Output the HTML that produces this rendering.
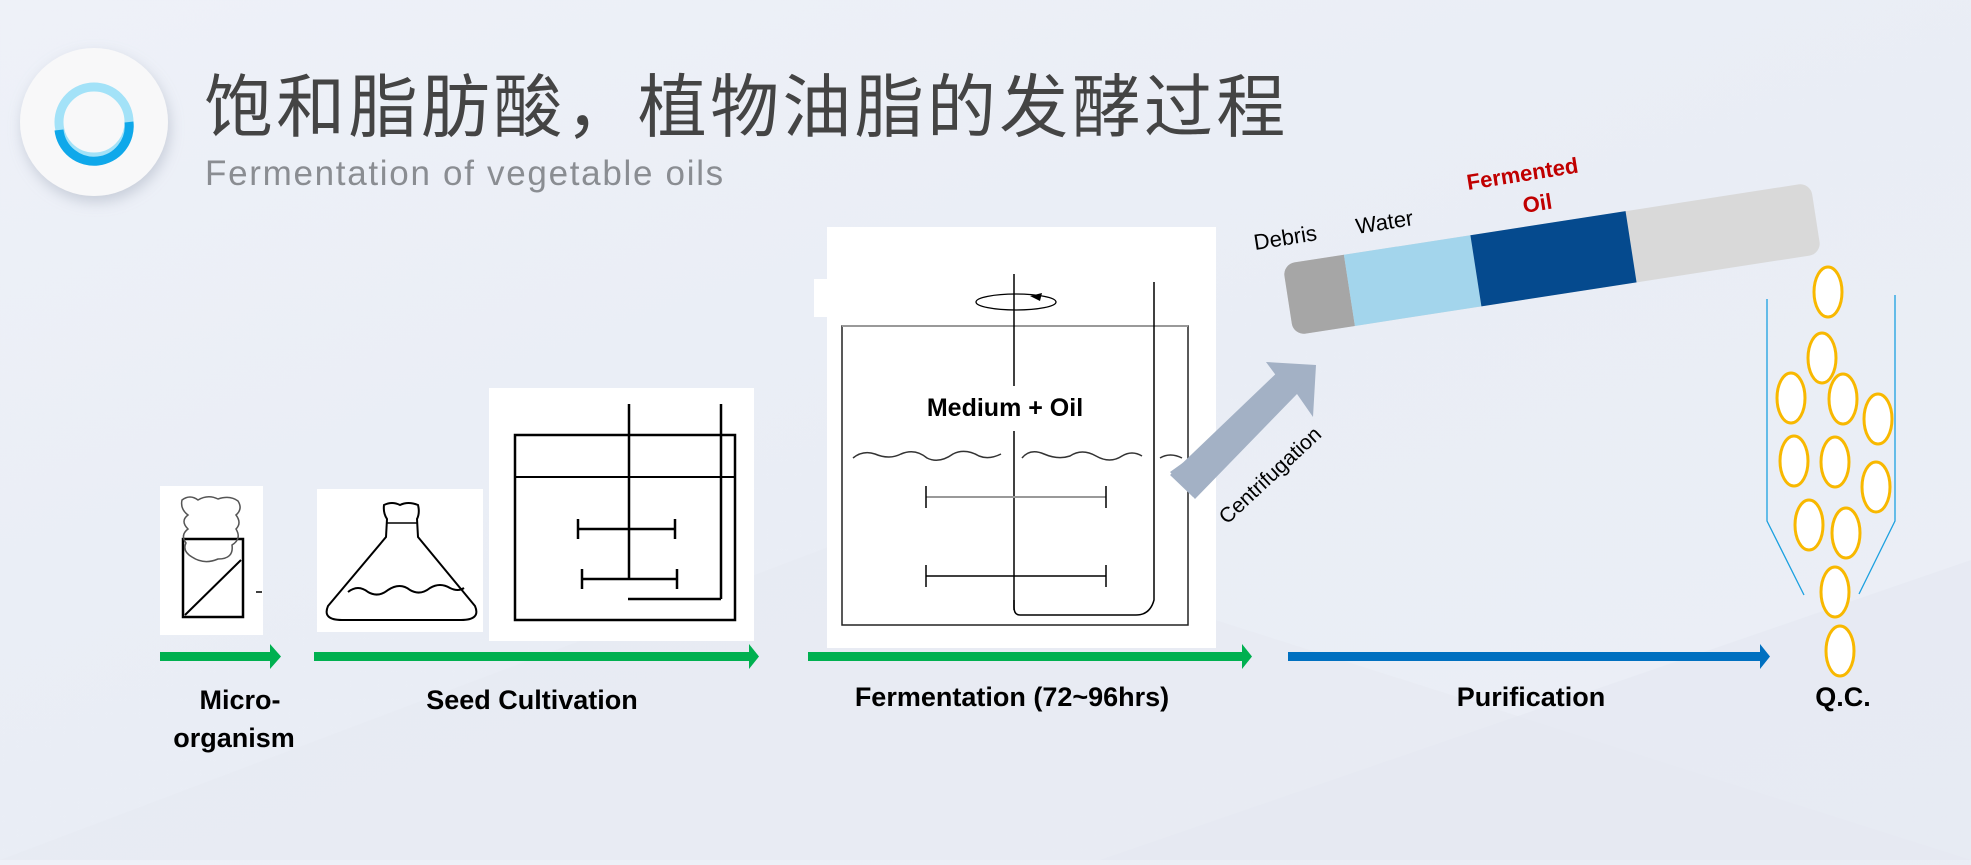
<!DOCTYPE html>
<html><head><meta charset="utf-8">
<style>
html,body{margin:0;padding:0;}
body{width:1971px;height:860px;overflow:hidden;background:linear-gradient(160deg,#eef1f8 0%,#e9edf5 50%,#eceff6 100%);font-family:"Liberation Sans",sans-serif;}
</style></head><body>
<svg width="1971" height="860" viewBox="0 0 1971 860" xmlns="http://www.w3.org/2000/svg">
<defs>
<filter id="sh" x="-30%" y="-30%" width="160%" height="160%"><feDropShadow dx="2" dy="6" stdDeviation="7" flood-color="#9aa3b5" flood-opacity="0.45"/></filter>
</defs>
<polygon points="0,860 900,520 1971,860" fill="#e6e9f2" opacity="0.6"/>
<polygon points="1100,860 1971,560 1971,860" fill="#e4e8f1" opacity="0.6"/>
<!-- icon -->
<circle cx="94" cy="122" r="74" fill="#f8f8f9" filter="url(#sh)"/>
<circle cx="94" cy="122" r="35" fill="none" stroke="#a3e2f8" stroke-width="9"/>
<path d="M129,122 A35,35 0 0 1 59,130" fill="none" stroke="#0fa8ea" stroke-width="9"/>
<text x="204" y="131" font-family="'Liberation Sans','Noto Sans CJK SC',sans-serif" font-size="69" fill="#444" letter-spacing="3.3">饱和脂肪酸，植物油脂的发酵过程</text>
<text x="205" y="185" font-size="35" fill="#8a8d92" letter-spacing="1.7">Fermentation of vegetable oils</text>

<!-- micro tube -->
<rect x="160" y="486" width="103" height="149" fill="#fff"/>
<rect x="183" y="539" width="60" height="78" fill="none" stroke="#000" stroke-width="2.5"/>
<line x1="185" y1="615" x2="241" y2="560" stroke="#000" stroke-width="2"/>
<path d="M182,500 q8,-6 16,0 q10,-6 20,-1 q12,-4 20,2 q5,8 -2,14 q6,8 0,14 q6,10 -4,16 q2,14 -14,14 q-14,6 -26,-2 q-10,-6 -6,-14 q-6,-8 2,-14 q-8,-8 0,-14 q-8,-6 -6,-15z" fill="none" stroke="#555" stroke-width="1.5"/>
<line x1="256" y1="592" x2="262" y2="592" stroke="#000" stroke-width="1.5"/>
<!-- flask -->
<rect x="317" y="489" width="166" height="143" fill="#fff"/>
<path d="M384,505 q8,-4 16,0 q8,-4 18,0 q2,8 -1,14 l1,18 L475,606 q6,14 -14,14 L342,620 q-20,0 -14,-14 L386,537 l1,-18 q-4,-6 -3,-14z" fill="none" stroke="#000" stroke-width="2"/>
<line x1="386" y1="523" x2="418" y2="523" stroke="#000" stroke-width="1.5"/>
<path d="M348,592 q10,-8 20,0 q10,6 20,-2 q12,-8 22,0 q10,6 20,-2 q10,-6 20,0 q8,4 14,0" fill="none" stroke="#000" stroke-width="2"/>
<!-- stirred tank -->
<rect x="489" y="388" width="265" height="253" fill="#fff"/>
<rect x="515" y="435" width="220" height="185" fill="none" stroke="#000" stroke-width="2.5"/>
<line x1="515" y1="477" x2="735" y2="477" stroke="#000" stroke-width="2"/>
<line x1="629" y1="404" x2="629" y2="579" stroke="#000" stroke-width="2.5"/>
<line x1="721" y1="404" x2="721" y2="599" stroke="#000" stroke-width="2.5"/>
<line x1="628" y1="599" x2="721" y2="599" stroke="#000" stroke-width="2.5"/>
<line x1="578" y1="529" x2="675" y2="529" stroke="#000" stroke-width="2.5"/>
<line x1="578" y1="519" x2="578" y2="539" stroke="#000" stroke-width="2.5"/>
<line x1="675" y1="519" x2="675" y2="539" stroke="#000" stroke-width="2.5"/>
<line x1="582" y1="579" x2="677" y2="579" stroke="#000" stroke-width="2.5"/>
<line x1="582" y1="569" x2="582" y2="589" stroke="#000" stroke-width="2.5"/>
<line x1="677" y1="569" x2="677" y2="589" stroke="#000" stroke-width="2.5"/>
<!-- fermenter -->
<rect x="827" y="227" width="389" height="421" fill="#fff"/>
<rect x="814" y="279" width="16" height="38" fill="#fff"/>
<rect x="842" y="326" width="346" height="299" fill="none" stroke="#222" stroke-width="1.5"/>
<line x1="842" y1="326" x2="1188" y2="326" stroke="#999" stroke-width="2"/>
<line x1="1014" y1="274" x2="1014" y2="386" stroke="#000" stroke-width="1.5"/>
<line x1="1014" y1="431" x2="1014" y2="610" stroke="#000" stroke-width="1.5"/>
<ellipse cx="1016" cy="302" rx="40" ry="8" fill="none" stroke="#000" stroke-width="1.3"/>
<polygon points="1030,296 1042,293 1040,301" fill="#000"/>
<path d="M1154,282 L1154,600 q-4,15 -18,15 L1020,615 q-6,0 -6,-8 L1014,600" fill="none" stroke="#000" stroke-width="1.5"/>
<text x="1005" y="416" font-size="25" font-weight="bold" text-anchor="middle" fill="#000">Medium + Oil</text>
<path d="M853,458 q10,-8 22,-4 q14,6 26,0 q14,-6 26,4 q12,6 26,-4 q12,-6 26,2 q10,4 22,-2 M1022,458 q8,-10 22,-4 q14,6 26,2 q12,-8 26,0 q14,8 26,0 q10,-6 20,0 M1160,458 q10,-6 22,0" fill="none" stroke="#333" stroke-width="1.5"/>
<line x1="926" y1="497" x2="1106" y2="497" stroke="#999" stroke-width="2"/>
<line x1="926" y1="486" x2="926" y2="508" stroke="#000" stroke-width="1.5"/>
<line x1="1106" y1="486" x2="1106" y2="508" stroke="#000" stroke-width="1.5"/>
<line x1="926" y1="576" x2="1106" y2="576" stroke="#000" stroke-width="1.5"/>
<line x1="926" y1="565" x2="926" y2="587" stroke="#000" stroke-width="1.5"/>
<line x1="1106" y1="565" x2="1106" y2="587" stroke="#000" stroke-width="1.5"/>

<!-- flow arrows -->
<g fill="#00b050">
<rect x="160" y="652" width="112" height="9"/><polygon points="270,644 281,656.5 270,669"/>
<rect x="314" y="652" width="437" height="9"/><polygon points="749,644 759,656.5 749,669"/>
<rect x="808" y="652" width="436" height="9"/><polygon points="1242,644 1252,656.5 1242,669"/>
</g>
<g fill="#0070c0">
<rect x="1288" y="652" width="474" height="9"/><polygon points="1760,644 1770,656.5 1760,669"/>
</g>
<g font-size="27" font-weight="bold" text-anchor="middle" fill="#000">
<text x="240" y="709">Micro-</text>
<text x="234" y="747">organism</text>
<text x="532" y="709">Seed Cultivation</text>
<text x="1012" y="706">Fermentation (72~96hrs)</text>
<text x="1531" y="706">Purification</text>
<text x="1843" y="706">Q.C.</text>
</g>

<!-- centrifugation arrow -->
<polygon points="1170,472 1286,389 1266,362 1316,365 1313,417 1297,394 1195,499" fill="#a3b1c5"/>
<polygon points="1170,475 1285,365 1303,383 1193,497" fill="#a3b1c5"/>
<text x="0" y="0" font-size="21" fill="#000" transform="translate(1227,525) rotate(-43)">Centrifugation</text>

<!-- tube -->
<g transform="translate(1552,259) rotate(-8.8)">
<rect x="-267" y="-36" width="534" height="72" rx="12" fill="#d9d9d9"/>
<path d="M-255,-36 H-205 V36 H-255 a12,12 0 0 1 -12,-12 V-24 a12,12 0 0 1 12,-12z" fill="#a6a6a6"/>
<rect x="-205" y="-36" width="128" height="72" fill="#a3d5ec"/>
<rect x="-77" y="-36" width="157" height="72" fill="#054a8e"/>
</g>
<g font-size="22" fill="#000">
<text transform="translate(1255,250) rotate(-9)">Debris</text>
<text transform="translate(1357,234) rotate(-9)">Water</text>
</g>
<g font-size="22" font-weight="bold" fill="#c00000">
<text transform="translate(1468,190) rotate(-9)">Fermented</text>
<text transform="translate(1524,213) rotate(-9)">Oil</text>
</g>

<!-- funnel -->
<polyline points="1767,299 1767,521 1804,595" fill="none" stroke="#1ba0e0" stroke-width="1.3"/>
<polyline points="1895,295 1895,521 1859,594" fill="none" stroke="#1ba0e0" stroke-width="1.3"/>
<g fill="#fff" stroke="#f8b800" stroke-width="3">
<ellipse cx="1828" cy="292" rx="14" ry="25"/>
<ellipse cx="1822" cy="358" rx="14" ry="25"/>
<ellipse cx="1791" cy="398" rx="14" ry="25"/>
<ellipse cx="1843" cy="399" rx="14" ry="25"/>
<ellipse cx="1878" cy="419" rx="14" ry="25"/>
<ellipse cx="1794" cy="461" rx="14" ry="25"/>
<ellipse cx="1835" cy="462" rx="14" ry="25"/>
<ellipse cx="1876" cy="487" rx="14" ry="25"/>
<ellipse cx="1809" cy="525" rx="14" ry="25"/>
<ellipse cx="1846" cy="533" rx="14" ry="25"/>
<ellipse cx="1835" cy="592" rx="14" ry="25"/>
<ellipse cx="1840" cy="651" rx="14" ry="25"/>
</g>
</svg>
</body></html>
